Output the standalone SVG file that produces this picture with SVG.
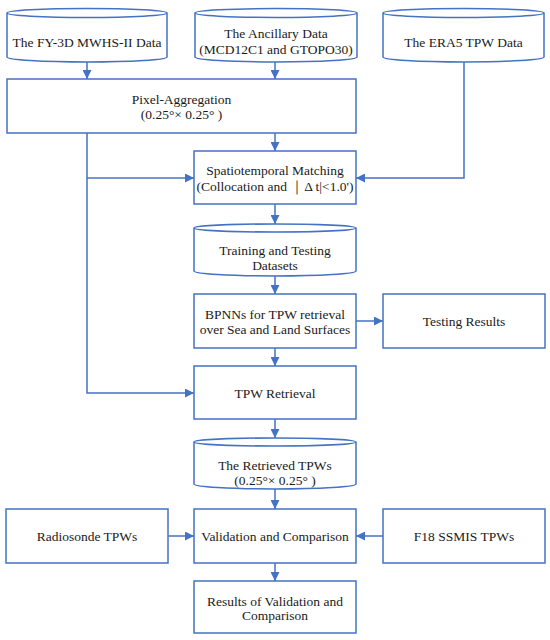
<svg xmlns="http://www.w3.org/2000/svg" width="550" height="640" viewBox="0 0 550 640" font-family="'Liberation Serif', 'DejaVu Serif', 'Times New Roman', serif">
  <defs>
    <style>
      .shape { fill: #ffffff; stroke: #4472C4; stroke-width: 1.5; }
      .conn { fill: none; stroke: #4472C4; stroke-width: 1.5; }
      .lbl { font-family: 'Liberation Serif', 'DejaVu Serif', 'Times New Roman', serif; font-size: 13.5px; fill: #1a1a1a; text-anchor: middle; }
    </style>
    <marker id="arrow" viewBox="0 0 10 10" refX="10" refY="5" markerWidth="9" markerHeight="9" markerUnits="userSpaceOnUse" orient="auto">
      <path d="M0,0 L10,5 L0,10 z" fill="#4472C4"/>
    </marker>
  </defs>
  <rect width="550" height="640" fill="#ffffff"/>

  <g id="connectors">
    <line class="conn" x1="87" y1="62" x2="87" y2="79" marker-end="url(#arrow)"/>
    <line class="conn" x1="275" y1="62" x2="275" y2="79" marker-end="url(#arrow)"/>
    <line class="conn" x1="275" y1="133" x2="275" y2="151" marker-end="url(#arrow)"/>
    <polyline class="conn" points="87,133 87,393 194,393" marker-end="url(#arrow)"/>
    <line class="conn" x1="87" y1="178" x2="194" y2="178" marker-end="url(#arrow)"/>
    <polyline class="conn" points="464,62 464,178 356,178" marker-end="url(#arrow)"/>
    <line class="conn" x1="275" y1="204" x2="275" y2="224" marker-end="url(#arrow)"/>
    <line class="conn" x1="275" y1="276" x2="275" y2="294" marker-end="url(#arrow)"/>
    <line class="conn" x1="356" y1="321" x2="383" y2="321" marker-end="url(#arrow)"/>
    <line class="conn" x1="275" y1="348" x2="275" y2="366" marker-end="url(#arrow)"/>
    <line class="conn" x1="275" y1="419" x2="275" y2="438" marker-end="url(#arrow)"/>
    <line class="conn" x1="275" y1="489" x2="275" y2="509" marker-end="url(#arrow)"/>
    <line class="conn" x1="168" y1="536" x2="194" y2="536" marker-end="url(#arrow)"/>
    <line class="conn" x1="383" y1="536" x2="356" y2="536" marker-end="url(#arrow)"/>
    <line class="conn" x1="275" y1="563" x2="275" y2="581" marker-end="url(#arrow)"/>
  </g>

  <g id="fy3d-data">
    <path class="shape" d="M7,13 L7,57 A80,5 0 0 0 167,57 L167,13"/>
    <ellipse class="shape" cx="87" cy="13" rx="80" ry="4.5"/>
    <text class="lbl" x="87" y="46.5">The FY-3D MWHS-II Data</text>
  </g>

  <g id="ancillary-data">
    <path class="shape" d="M195,13 L195,57 A81,5 0 0 0 357,57 L357,13"/>
    <ellipse class="shape" cx="276" cy="13" rx="81" ry="4.5"/>
    <text class="lbl" x="276" y="37.5">The Ancillary Data</text>
    <text class="lbl" x="276" y="53.5">(MCD12C1 and GTOPO30)</text>
  </g>

  <g id="era5-data">
    <path class="shape" d="M383,13 L383,57 A80.5,5 0 0 0 544,57 L544,13"/>
    <ellipse class="shape" cx="463.5" cy="13" rx="80.5" ry="4.5"/>
    <text class="lbl" x="463.5" y="46.5">The ERA5 TPW Data</text>
  </g>

  <g id="pixel-aggregation">
    <rect class="shape" x="7" y="79" width="349" height="54"/>
    <text class="lbl" x="181.5" y="103.5">Pixel-Aggregation</text>
    <text class="lbl" x="181.5" y="118.5">(0.25°× 0.25° )</text>
  </g>

  <g id="spatiotemporal-matching">
    <rect class="shape" x="194" y="151" width="162" height="53"/>
    <text class="lbl" x="275" y="174.5">Spatiotemporal Matching</text>
    <text class="lbl" x="275" y="190.5">(Collocation and ｜Δ t|&lt;1.0')</text>
  </g>

  <g id="training-testing-datasets">
    <path class="shape" d="M194,228 L194,271 A81,5 0 0 0 356,271 L356,228"/>
    <ellipse class="shape" cx="275" cy="228" rx="81" ry="4"/>
    <text class="lbl" x="275" y="255">Training and Testing</text>
    <text class="lbl" x="275" y="270">Datasets</text>
  </g>

  <g id="bpnns">
    <rect class="shape" x="194" y="294" width="162" height="54"/>
    <text class="lbl" x="275" y="318.5">BPNNs for TPW retrieval</text>
    <text class="lbl" x="275" y="333.5">over Sea and Land Surfaces</text>
  </g>

  <g id="testing-results">
    <rect class="shape" x="383" y="294" width="162" height="54"/>
    <text class="lbl" x="464" y="325.5">Testing Results</text>
  </g>

  <g id="tpw-retrieval">
    <rect class="shape" x="194" y="366" width="162" height="53"/>
    <text class="lbl" x="275" y="397.5">TPW Retrieval</text>
  </g>

  <g id="retrieved-tpws">
    <path class="shape" d="M194,442 L194,484 A81,5 0 0 0 356,484 L356,442"/>
    <ellipse class="shape" cx="275" cy="442" rx="81" ry="4"/>
    <text class="lbl" x="275" y="469.5">The Retrieved TPWs</text>
    <text class="lbl" x="275" y="484.5">(0.25°× 0.25° )</text>
  </g>

  <g id="radiosonde-tpws">
    <rect class="shape" x="6" y="509" width="162" height="54"/>
    <text class="lbl" x="87" y="540.5">Radiosonde TPWs</text>
  </g>

  <g id="validation-comparison">
    <rect class="shape" x="194" y="509" width="162" height="54"/>
    <text class="lbl" x="275" y="540.5">Validation and Comparison</text>
  </g>

  <g id="f18-ssmis-tpws">
    <rect class="shape" x="383" y="509" width="162" height="54"/>
    <text class="lbl" x="464" y="540.5">F18 SSMIS TPWs</text>
  </g>

  <g id="results-validation-comparison">
    <rect class="shape" x="194" y="581" width="162" height="52"/>
    <text class="lbl" x="275" y="605.5">Results of Validation and</text>
    <text class="lbl" x="275" y="620">Comparison</text>
  </g>
</svg>
